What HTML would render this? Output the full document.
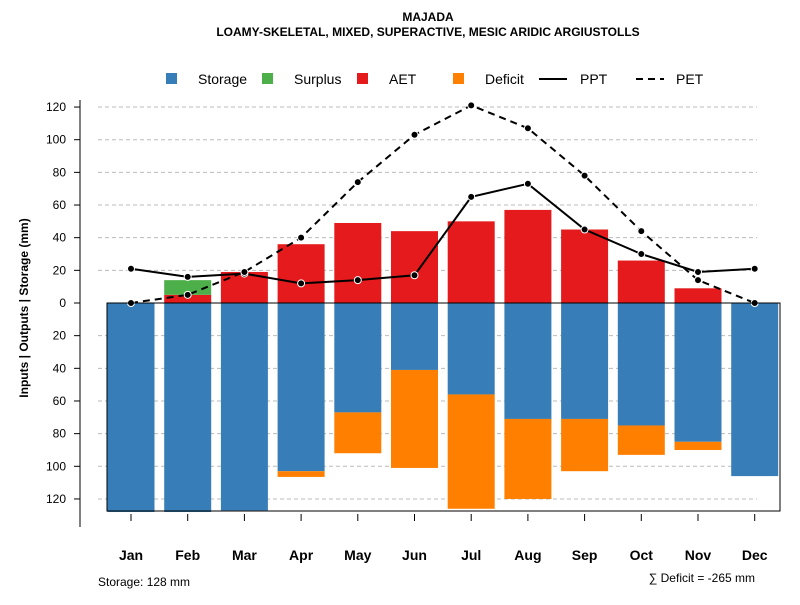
<!DOCTYPE html>
<html><head><meta charset="utf-8"><style>
body{margin:0;background:#fff;font-family:"Liberation Sans",sans-serif}
svg text{font-family:"Liberation Sans",sans-serif}
</style></head><body>
<svg id="c" width="800" height="600" xmlns="http://www.w3.org/2000/svg">
<text x="428" y="21" text-anchor="middle" font-size="12" font-weight="bold">MAJADA</text>
<text x="428" y="36" text-anchor="middle" font-size="12" font-weight="bold">LOAMY-SKELETAL, MIXED, SUPERACTIVE, MESIC ARIDIC ARGIUSTOLLS</text>
<g font-size="14">
<rect x="166" y="73" width="11" height="11" fill="#377EB8"/><text x="198" y="84">Storage</text>
<rect x="262" y="73" width="11" height="11" fill="#4DAF4A"/><text x="294" y="84">Surplus</text>
<rect x="357" y="73" width="11" height="11" fill="#E41A1C"/><text x="389" y="84">AET</text>
<rect x="453" y="73" width="11" height="11" fill="#FF7F00"/><text x="485" y="84">Deficit</text>
<line x1="539" y1="79" x2="567" y2="79" stroke="#000" stroke-width="2"/><text x="580" y="84">PPT</text>
<line x1="636" y1="79" x2="664" y2="79" stroke="#000" stroke-width="2" stroke-dasharray="7,5"/><text x="676" y="84">PET</text>
</g>
<text transform="translate(28,308) rotate(-90)" text-anchor="middle" font-size="12" font-weight="bold">Inputs | Outputs | Storage    (mm)</text>
<g id="grid"></g><g id="bars"></g><g id="lines"></g><g id="axes"></g>
<text x="98" y="586" font-size="12">Storage: 128 mm</text>
<text x="755" y="582" text-anchor="end" font-size="12">∑ Deficit = -265 mm</text>
</svg>
<script>
const months=["Jan","Feb","Mar","Apr","May","Jun","Jul","Aug","Sep","Oct","Nov","Dec"];
const storage=[128,128,127,103,67,41,56,71,71,75,85,106];
const deficit=[0,0,0,3.5,25,60,70,49,32,18,5,0];
const aet=[0,5,19,36,49,44,50,57,45,26,9,0];
const surplus=[0,9,0,0,0,0,0,0,0,0,0,0];
const ppt=[21,16,18,12,14,17,65,73,45,30,19,21];
const pet=[0,5,19,40,74,103,121,107,78,44,14,0];
const ticks=[120,100,80,60,40,20,0,-20,-40,-60,-80,-100,-120];
const NS="http://www.w3.org/2000/svg";
const y=v=>303-v*1.633;
const x=i=>131+i*56.7;
const bw=47;
function mk(p,t,a){const e=document.createElementNS(NS,t);for(const k in a)e.setAttribute(k,a[k]);document.getElementById(p).appendChild(e);return e;}
ticks.forEach(t=>{
 if(t!==0){const g=mk("grid","line",{x1:98,x2:757,y1:y(t),y2:y(t),stroke:"#bbb","stroke-dasharray":"4,3"});
 
 }
 const tk=mk("axes","line",{x1:74,x2:80,y1:y(t),y2:y(t),stroke:"#000"});
 
 
 const l=mk("axes","text",{x:66,y:y(t)+4,"text-anchor":"end","font-size":"12"});l.textContent=Math.abs(t);
 
 
});
months.forEach((m,i)=>{
 const s=mk("bars","rect",{x:x(i)-bw/2,y:303,width:bw,height:storage[i]*1.633,fill:"#377EB8"});
 
 
 if(deficit[i]>0){const d=mk("bars","rect",{x:x(i)-bw/2,y:y(-storage[i]),width:bw,height:deficit[i]*1.633,fill:"#FF7F00"});
 
 }
 if(aet[i]>0){const a=mk("bars","rect",{x:x(i)-bw/2,y:y(aet[i]),width:bw,height:aet[i]*1.633,fill:"#E41A1C"});
 
 }
 if(surplus[i]>0){const u=mk("bars","rect",{x:x(i)-bw/2,y:y(aet[i]+surplus[i]),width:bw,height:surplus[i]*1.633,fill:"#4DAF4A"});
 
 }
 const tk=mk("axes","line",{x1:x(i),x2:x(i),y1:514,y2:521,stroke:"#000"});
 
 
 const l=mk("axes","text",{x:x(i),y:560,"text-anchor":"middle","font-size":"14","font-weight":"bold"});l.textContent=m;
 
 
});
const box=mk("axes","path",{d:"M107 303 H780 V511 H107 Z",fill:"none",stroke:"#000"});


const ax=mk("axes","line",{x1:80,x2:80,y1:100,y2:527,stroke:"#000"});


const xa=mk("axes","line",{x1:131,x2:755,y1:521,y2:521,stroke:"none"});


[[ppt,"","ppt"],[pet,"7,5","pet"]].forEach(([arr,da,n])=>{
 const p=mk("lines","polyline",{points:arr.map((v,i)=>x(i)+","+y(v)).join(" "),fill:"none",stroke:"#000","stroke-width":2,"stroke-dasharray":da});
 
 
 arr.forEach((v,i)=>{const c=mk("lines","circle",{cx:x(i),cy:y(v),r:3.5,fill:"#000",stroke:"#fff","stroke-width":1});
 
 });
});
</script>
</body></html>
